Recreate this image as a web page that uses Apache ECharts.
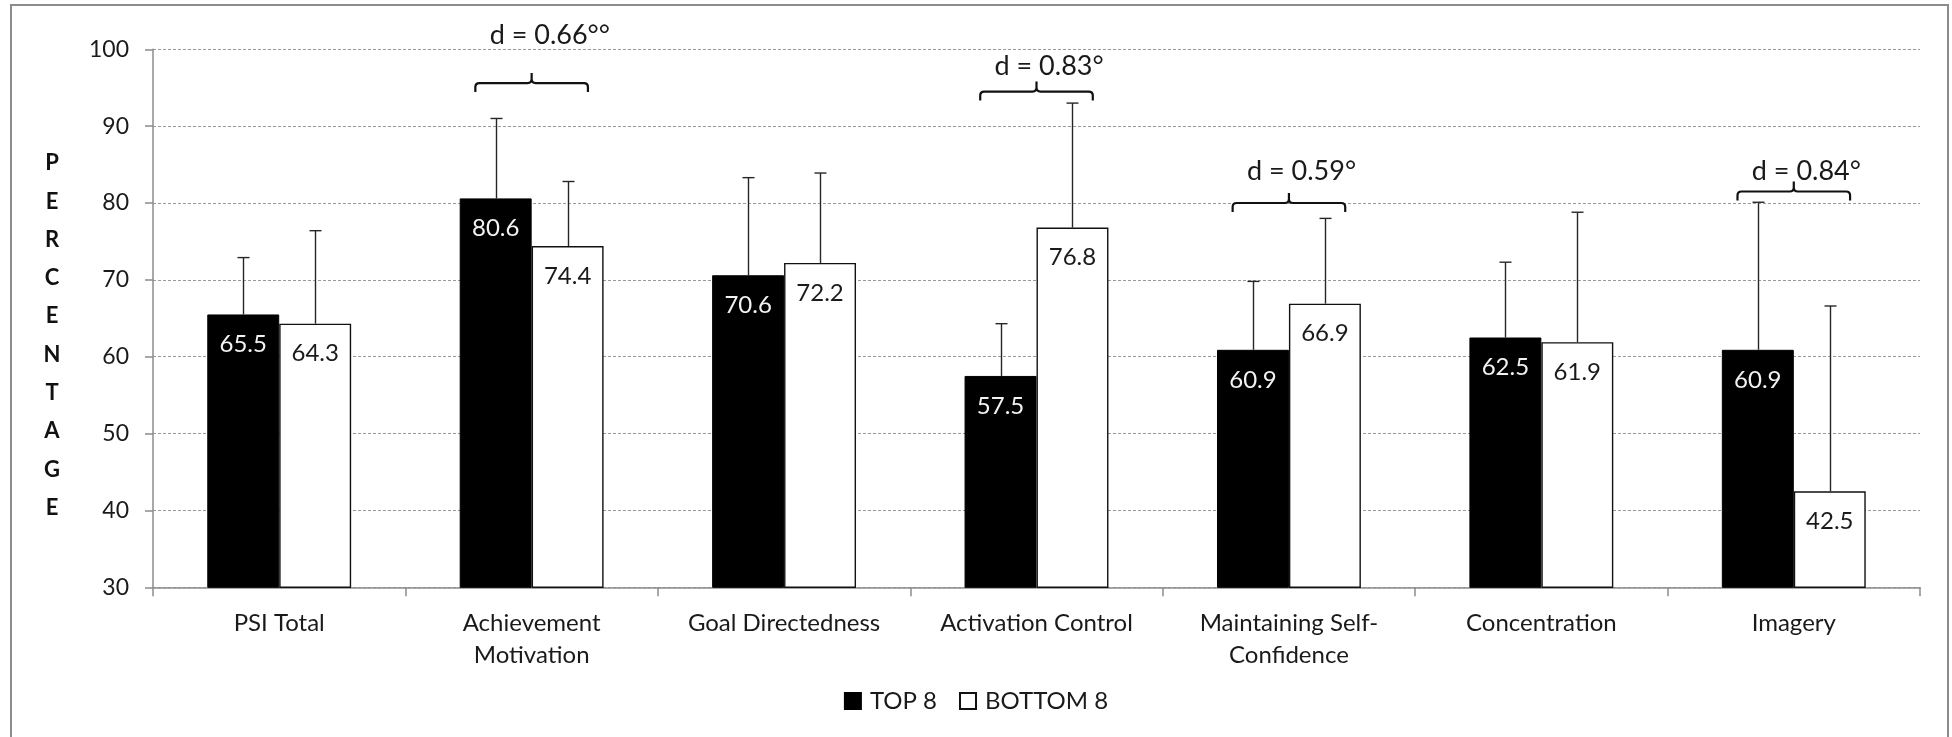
<!DOCTYPE html>
<html>
<head>
<meta charset="utf-8">
<script src="https://cdn.jsdelivr.net/npm/echarts@6/dist/echarts.min.js"></script>
<style>
  html, body { margin: 0; padding: 0; background: #ffffff; }
  #chart { width: 1952px; height: 737px; }
</style>
</head>
<body>
<div id="chart"></div>
<script>
// PSI subscale scores (percentage), top 8 vs bottom 8 players, with SD bars
const categories = ['PSI Total', 'Achievement\nMotivation', 'Goal Directedness', 'Activation Control',
  'Maintaining Self-\nConfidence', 'Concentration', 'Imagery'];
const top8 = [65.5, 80.6, 70.6, 57.5, 60.9, 62.5, 60.9];
const bottom8 = [64.3, 74.4, 72.2, 76.8, 66.9, 61.9, 42.5];
const top8Sd = [7.4, 10.4, 12.7, 6.8, 8.9, 9.8, 19.2];
const bottom8Sd = [12.1, 8.4, 11.7, 16.2, 11.1, 16.9, 24.1];

// effect-size annotations: category index, text, bracket level and text level (axis units)
const effectCategory = [1, 3, 4, 6];
const effectLabel = ['d = 0.66\u00B0\u00B0', 'd = 0.83\u00B0', 'd = 0.59\u00B0', 'd = 0.84\u00B0'];
const bracketLevel = [95.6, 94.5, 80.0, 81.5];
const effectTextLevel = [101.8, 97.8, 84.1, 84.1];

const yMin = 30, yMax = 100, yStep = 10;
const seriesNames = ['TOP 8', 'BOTTOM 8'];

const FONT = 'Lato, "Open Sans", sans-serif';
const CAT_GAP = 0.43;   // share of a category left empty around the bar pair
const AXIS_GRAY = '#8c8c8c';

function barHalfWidth(api) {
  const catW = api.size([1, 0])[0];
  return catW * (1 - CAT_GAP) / 4;
}

function errorBarSeries(values, sds, side) {
  return {
    type: 'custom',
    z: 5,
    silent: true,
    data: values.map((v, i) => [i, v, v + sds[i]]),
    renderItem(params, api) {
      const half = barHalfWidth(api);
      const base = api.coord([api.value(0), api.value(1)]);
      const top = api.coord([api.value(0), api.value(2)]);
      const x = Math.round(base[0] + side * half) + 0.5;
      const cap = 6;
      const st = { stroke: '#262626', lineWidth: 1.4 };
      return {
        type: 'group',
        children: [
          { type: 'line', shape: { x1: x, y1: base[1], x2: x, y2: top[1] }, style: st },
          { type: 'line', shape: { x1: x - cap, y1: top[1], x2: x + cap, y2: top[1] }, style: st }
        ]
      };
    }
  };
}

const bracketSeries = {
  type: 'custom',
  z: 6,
  silent: true,
  data: effectCategory.map((c, i) => [c, bracketLevel[i], effectTextLevel[i]]),
  renderItem(params, api) {
    const i = params.dataIndex;
    const catW = api.size([1, 0])[0];
    const hw = catW * 0.223;
    const p = api.coord([api.value(0), api.value(1)]);
    const cx = p[0], y = p[1];
    const x1 = cx - hw, x2 = cx + hw;
    const r = 4, drop = 9, rise = 10;
    const d = [
      'M', x1, y + drop, 'L', x1, y + r, 'Q', x1, y, x1 + r, y,
      'L', cx - r, y, 'Q', cx, y, cx, y - r, 'L', cx, y - rise,
      'M', cx, y - r, 'Q', cx, y, cx + r, y,
      'L', x2 - r, y, 'Q', x2, y, x2, y + r, 'L', x2, y + drop
    ].join(' ');
    const ty = api.coord([api.value(0), api.value(2)])[1];
    return {
      type: 'group',
      children: [
        { type: 'path', shape: { pathData: d }, style: { stroke: '#111', lineWidth: 2.2, fill: null } },
        {
          type: 'text',
          x: cx - 42, y: ty,
          style: {
            text: effectLabel[i], fill: '#1a1a1a', font: '27px ' + FONT,
            textAlign: 'left', textVerticalAlign: 'middle'
          }
        }
      ]
    };
  }
};

const chart = echarts.init(document.getElementById('chart'), null, { renderer: 'canvas' });

chart.setOption({
  animation: false,
  backgroundColor: '#ffffff',
  textStyle: { fontFamily: FONT },
  grid: { left: 153, right: 32, top: 49.3, bottom: 149.7, containLabel: false, outerBoundsMode: 'none' },
  graphic: [
    {
      type: 'rect', silent: true, z: 0,
      shape: { x: 11, y: 5, width: 1937, height: 760 },
      style: { fill: null, stroke: AXIS_GRAY, lineWidth: 2 }
    },
    {
      type: 'text', silent: true, x: 52, y: 144,
      style: {
        text: 'PERCENTAGE'.split('').join('\n'),
        font: 'bold 22px ' + FONT, fill: '#111', textAlign: 'center', lineHeight: 38.3
      }
    }
  ],
  legend: {
    data: seriesNames,
    left: 'center',
    top: 684,
    icon: 'rect',
    itemWidth: 16,
    itemHeight: 16,
    itemGap: 22,
    textStyle: { fontSize: 24, color: '#1a1a1a', fontFamily: FONT, padding: [0, 0, 0, 4] }
  },
  xAxis: {
    type: 'category',
    data: categories,
    axisLine: { lineStyle: { color: AXIS_GRAY, width: 1.5 } },
    axisTick: { show: true, interval: 0, length: 9, lineStyle: { color: AXIS_GRAY, width: 1.5 } },
    axisLabel: { interval: 0, margin: 20, fontSize: 24, lineHeight: 32, color: '#1a1a1a', fontFamily: FONT }
  },
  yAxis: {
    type: 'value',
    min: yMin, max: yMax, interval: yStep,
    axisLine: { show: true, lineStyle: { color: AXIS_GRAY, width: 1.5 } },
    axisTick: { show: true, length: 8, lineStyle: { color: AXIS_GRAY, width: 1.5 } },
    axisLabel: { margin: 24, fontSize: 23, color: '#1a1a1a', fontFamily: FONT },
    splitLine: { show: true, lineStyle: { color: '#9a9a9a', width: 1, type: [3, 2] } }
  },
  series: [
    {
      name: seriesNames[0],
      type: 'bar',
      data: top8,
      barGap: '0%',
      barCategoryGap: (CAT_GAP * 100) + '%',
      itemStyle: { color: '#000000', borderColor: '#000000', borderWidth: 1 },
      label: {
        show: true, position: 'insideTop', distance: 17, lineHeight: 26,
        fontSize: 24, color: '#f2f2f2', fontFamily: FONT,
        formatter: p => p.value.toFixed(1)
      },
      z: 3
    },
    {
      name: seriesNames[1],
      type: 'bar',
      data: bottom8,
      barGap: '0%',
      barCategoryGap: (CAT_GAP * 100) + '%',
      itemStyle: { color: '#ffffff', borderColor: '#111111', borderWidth: 1.4 },
      label: {
        show: true, position: 'insideTop', distance: 17, lineHeight: 26,
        fontSize: 24, color: '#1a1a1a', fontFamily: FONT,
        formatter: p => p.value.toFixed(1)
      },
      z: 3
    },
    errorBarSeries(top8, top8Sd, -1),
    errorBarSeries(bottom8, bottom8Sd, 1),
    bracketSeries
  ]
});
</script>
</body>
</html>
